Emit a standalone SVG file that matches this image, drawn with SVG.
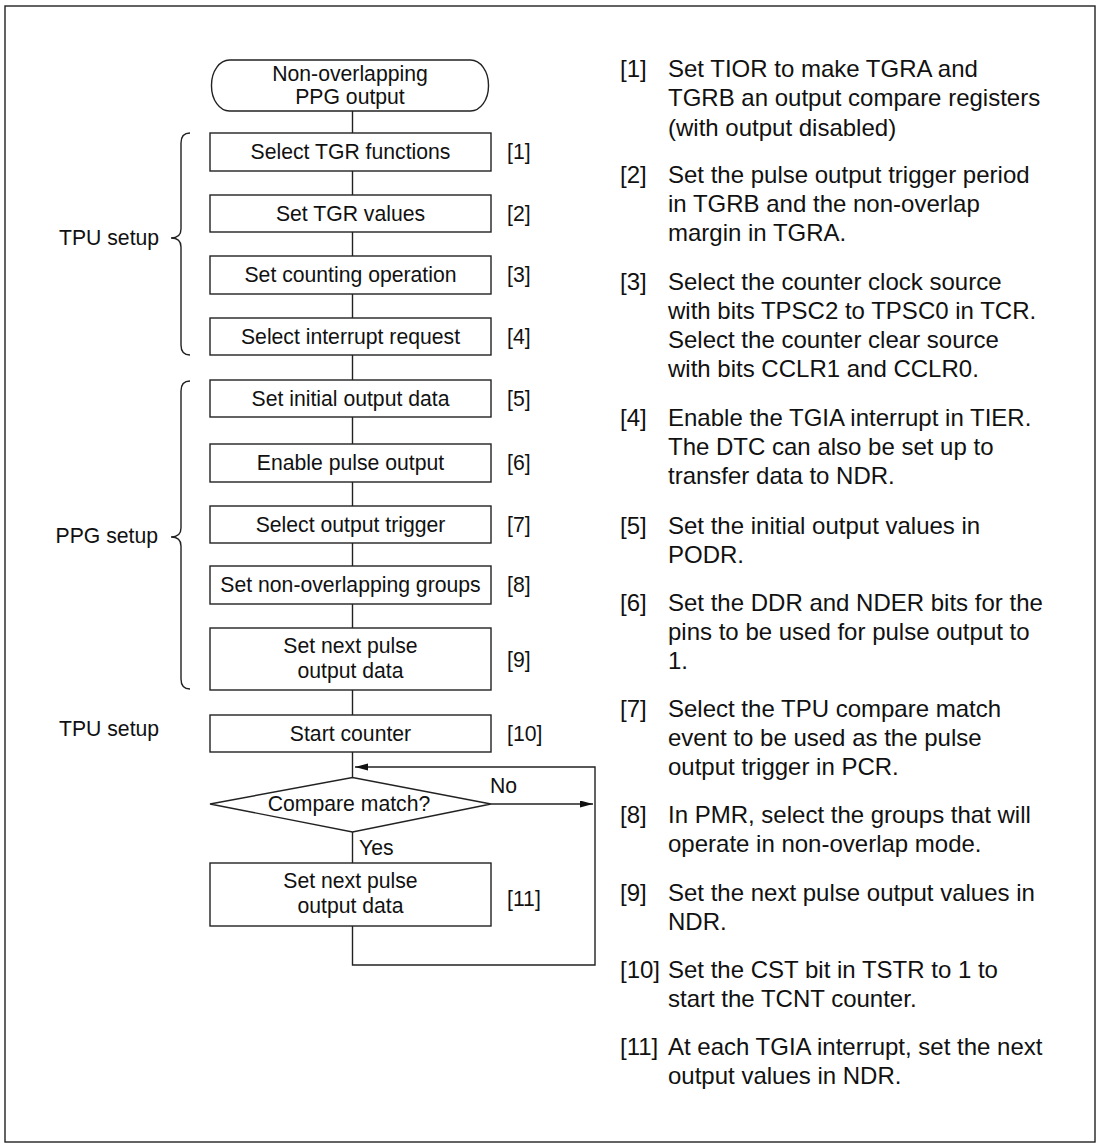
<svg xmlns="http://www.w3.org/2000/svg" width="1100" height="1145" viewBox="0 0 1100 1145">
<style>
.bx{fill:#fff;stroke:#222;stroke-width:1.4}
.ln{fill:none;stroke:#222;stroke-width:1.4}
.ft{font-family:"Liberation Sans",Arial,sans-serif;font-size:21.2px;fill:#111;text-anchor:middle}
.lb{font-family:"Liberation Sans",Arial,sans-serif;font-size:21.2px;fill:#111}
.rt{font-family:"Liberation Sans",Arial,sans-serif;font-size:24px;fill:#111}
</style>
<defs>
<marker id="ah" markerUnits="userSpaceOnUse" markerWidth="14" markerHeight="8" refX="13" refY="3.5" orient="auto">
<path d="M0,0 L13,3.5 L0,7 z" fill="#111"/>
</marker>
</defs>
<rect x="5" y="6" width="1090" height="1136" fill="#fff" stroke="#222" stroke-width="1.4"/>

<g id="connectors">
<path class="ln" d="M352.5,111 V133 M352.5,171 V195 M352.5,232 V256 M352.5,294 V318 M352.5,355 V380 M352.5,417 V444 M352.5,482 V506 M352.5,543 V566 M352.5,604 V628 M352.5,690 V715 M352.5,752 V777.5 M352.5,832 V863"/>
<path class="ln" d="M491,804 H593" marker-end="url(#ah)"/>
<path class="ln" d="M352.5,926 V965 H595 V767 H355" marker-end="url(#ah)"/>
<text class="lb" x="490" y="793">No</text>
<text class="lb" x="359" y="855">Yes</text>
</g>

<g id="start">
<rect class="bx" x="211.5" y="60" width="277" height="51" rx="18" ry="25"/>
<text class="ft" x="350" y="81">Non-overlapping</text>
<text class="ft" x="350" y="104">PPG output</text>
</g>
<g id="n1"><rect class="bx" x="210" y="133" width="281" height="38"/><text class="ft" x="350.5" y="159">Select TGR functions</text><text class="lb" x="507" y="159">[1]</text></g>
<g id="n2"><rect class="bx" x="210" y="195" width="281" height="37"/><text class="ft" x="350.5" y="220.5">Set TGR values</text><text class="lb" x="507" y="220.5">[2]</text></g>
<g id="n3"><rect class="bx" x="210" y="256" width="281" height="38"/><text class="ft" x="350.5" y="282">Set counting operation</text><text class="lb" x="507" y="282">[3]</text></g>
<g id="n4"><rect class="bx" x="210" y="318" width="281" height="37"/><text class="ft" x="350.5" y="343.5">Select interrupt request</text><text class="lb" x="507" y="343.5">[4]</text></g>
<g id="n5"><rect class="bx" x="210" y="380" width="281" height="37"/><text class="ft" x="350.5" y="405.5">Set initial output data</text><text class="lb" x="507" y="405.5">[5]</text></g>
<g id="n6"><rect class="bx" x="210" y="444" width="281" height="38"/><text class="ft" x="350.5" y="470">Enable pulse output</text><text class="lb" x="507" y="470">[6]</text></g>
<g id="n7"><rect class="bx" x="210" y="506" width="281" height="37"/><text class="ft" x="350.5" y="531.5">Select output trigger</text><text class="lb" x="507" y="531.5">[7]</text></g>
<g id="n8"><rect class="bx" x="210" y="566" width="281" height="38"/><text class="ft" x="350.5" y="592">Set non-overlapping groups</text><text class="lb" x="507" y="592">[8]</text></g>
<g id="n9"><rect class="bx" x="210" y="628" width="281" height="62"/><text class="ft" x="350.5" y="653">Set next pulse</text><text class="ft" x="350.5" y="678">output data</text><text class="lb" x="507" y="666.5">[9]</text></g>
<g id="n10"><rect class="bx" x="210" y="715" width="281" height="37"/><text class="ft" x="350.5" y="740.5">Start counter</text><text class="lb" x="507" y="740.5">[10]</text></g>
<g id="d1"><polygon class="bx" points="210,804 352.5,777.5 491,804 352.5,832"/><text class="ft" x="349" y="811">Compare match?</text></g>
<g id="n11"><rect class="bx" x="210" y="863" width="281" height="63"/><text class="ft" x="350.5" y="888">Set next pulse</text><text class="ft" x="350.5" y="913">output data</text><text class="lb" x="507" y="906">[11]</text></g>

<g id="tpu-setup">
<path class="ln" d="M190,133 Q181,133 181,143 L181,229 Q181,238 171,238 Q181,238 181,247 L181,345 Q181,355 190,355"/>
<text class="lb" x="59" y="244.5">TPU setup</text>
</g>
<g id="ppg-setup">
<path class="ln" d="M190,381 Q181,381 181,391 L181,528 Q181,537 171,537 Q181,537 181,546 L181,679 Q181,689 190,689"/>
<text class="lb" x="55.5" y="543">PPG setup</text>
</g>
<g id="tpu-setup2"><text class="lb" x="59" y="736">TPU setup</text></g>

<g id="notes">
<text class="rt" x="620" y="77">[1]</text>
<text class="rt" x="668" y="77">Set TIOR to make TGRA and</text>
<text class="rt" x="668" y="106">TGRB an output compare registers</text>
<text class="rt" x="668" y="136">(with output disabled)</text>
<text class="rt" x="620" y="183">[2]</text>
<text class="rt" x="668" y="183">Set the pulse output trigger period</text>
<text class="rt" x="668" y="212">in TGRB and the non-overlap</text>
<text class="rt" x="668" y="241">margin in TGRA.</text>
<text class="rt" x="620" y="290">[3]</text>
<text class="rt" x="668" y="290">Select the counter clock source</text>
<text class="rt" x="668" y="319">with bits TPSC2 to TPSC0 in TCR.</text>
<text class="rt" x="668" y="348">Select the counter clear source</text>
<text class="rt" x="668" y="377">with bits CCLR1 and CCLR0.</text>
<text class="rt" x="620" y="426">[4]</text>
<text class="rt" x="668" y="426">Enable the TGIA interrupt in TIER.</text>
<text class="rt" x="668" y="455">The DTC can also be set up to</text>
<text class="rt" x="668" y="484">transfer data to NDR.</text>
<text class="rt" x="620" y="534">[5]</text>
<text class="rt" x="668" y="534">Set the initial output values in</text>
<text class="rt" x="668" y="563">PODR.</text>
<text class="rt" x="620" y="611">[6]</text>
<text class="rt" x="668" y="611">Set the DDR and NDER bits for the</text>
<text class="rt" x="668" y="640">pins to be used for pulse output to</text>
<text class="rt" x="668" y="669">1.</text>
<text class="rt" x="620" y="717">[7]</text>
<text class="rt" x="668" y="717">Select the TPU compare match</text>
<text class="rt" x="668" y="746">event to be used as the pulse</text>
<text class="rt" x="668" y="775">output trigger in PCR.</text>
<text class="rt" x="620" y="823">[8]</text>
<text class="rt" x="668" y="823">In PMR, select the groups that will</text>
<text class="rt" x="668" y="852">operate in non-overlap mode.</text>
<text class="rt" x="620" y="901">[9]</text>
<text class="rt" x="668" y="901">Set the next pulse output values in</text>
<text class="rt" x="668" y="930">NDR.</text>
<text class="rt" x="620" y="978">[10]</text>
<text class="rt" x="668" y="978">Set the CST bit in TSTR to 1 to</text>
<text class="rt" x="668" y="1007">start the TCNT counter.</text>
<text class="rt" x="620" y="1055">[11]</text>
<text class="rt" x="668" y="1055">At each TGIA interrupt, set the next</text>
<text class="rt" x="668" y="1084">output values in NDR.</text>
</g>
</svg>
